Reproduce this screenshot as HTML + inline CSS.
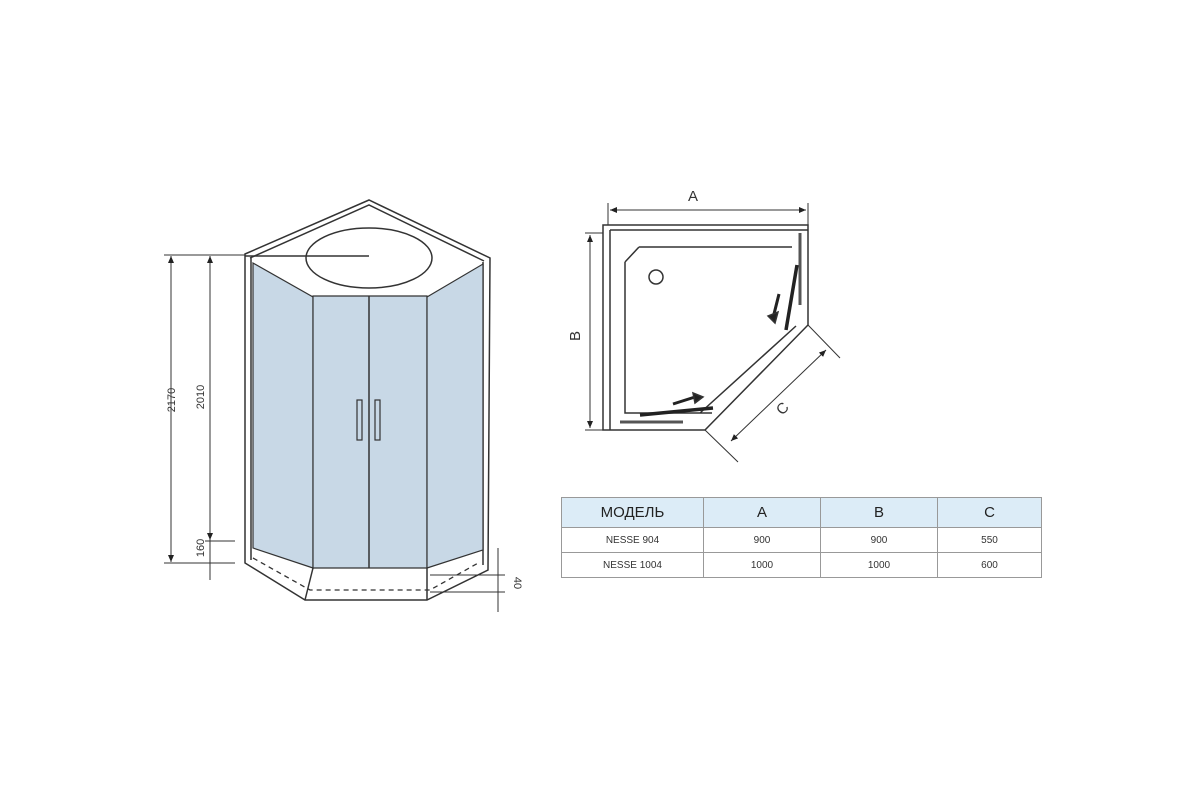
<!DOCTYPE html>
<html><head><meta charset="utf-8"><style>
body{margin:0;background:#fff;width:1200px;height:800px;overflow:hidden;font-family:"Liberation Sans",sans-serif;}
svg{position:absolute;left:0;top:0}
table{position:absolute;left:561px;top:497px;width:481px;border-collapse:collapse;font-family:"Liberation Sans","Noto Sans CJK SC",sans-serif;color:#333}
td{border:1px solid #999;text-align:center;font-size:10px;padding:0;height:24px}
tr.h td{background:#dcecf7;height:29px;font-size:15px;color:#222}
</style></head><body>
<svg width="1200" height="800" viewBox="0 0 1200 800">
<defs><marker id="a" markerWidth="8" markerHeight="8" refX="7" refY="4" orient="auto-start-reverse"><path d="M0,1 L7,4 L0,7" fill="#222"/></marker></defs>
<g fill="none" stroke="#333" stroke-width="1.5">
<!-- left cabin -->
<path d="M245,254 L369,200 L490,258 L488,570 L427,600 L305,600 L245,563 Z" fill="#fff"/>
<path d="M250,258 L369,205 L484,261"/>
<path d="M251,258 L251,560"/>
<path d="M483,262 L483,565"/>
<path d="M253,263 L313,297 L313,568 L253,548 Z" fill="#c8d8e6" stroke-width="1.2"/>
<path d="M313,296 L427,296 L427,568 L313,568 Z" fill="#c8d8e6" stroke-width="1.2"/>
<path d="M427,297 L483,264 L483,550 L427,568 Z" fill="#c8d8e6" stroke-width="1.2"/>
<line x1="369" y1="296" x2="369" y2="568"/>
<ellipse cx="369" cy="258" rx="63" ry="30" fill="#fff"/>
<line x1="245" y1="256" x2="369" y2="256"/>
<rect x="357" y="400" width="5" height="40" stroke-width="1.2"/>
<rect x="375" y="400" width="5" height="40" stroke-width="1.2"/>
<path d="M253,558 L310,590 L430,590 L480,562" stroke-dasharray="5,4" stroke-width="1.3"/>
<path d="M313,568 L305,600"/><path d="M427,568 L427,600"/>
<!-- dims -->
<line x1="171" y1="256" x2="171" y2="562" marker-start="url(#a)" marker-end="url(#a)" stroke-width="1"/>
<line x1="210" y1="256" x2="210" y2="540" marker-start="url(#a)" marker-end="url(#a)" stroke-width="1"/>
<line x1="210" y1="540" x2="210" y2="580" stroke-width="1"/>
<line x1="164" y1="255" x2="245" y2="255" stroke-width="1"/>
<line x1="164" y1="563" x2="235" y2="563" stroke-width="1"/>
<line x1="205" y1="541" x2="235" y2="541" stroke-width="1"/>
<line x1="498" y1="548" x2="498" y2="612" stroke-width="1"/>
<line x1="430" y1="575" x2="505" y2="575" stroke-width="1"/>
<line x1="430" y1="592" x2="505" y2="592" stroke-width="1"/>
<!-- plan -->
<path d="M603,225 L808,225 L808,325 L705,430 L603,430 Z" fill="#fff"/>
<path d="M610,230 L808,230 M610,230 L610,430"/>
<path d="M639,247 L792,247 M625,262 L639,247 M625,262 L625,413 L712,413 M700,413 L796,326"/>
<circle cx="656" cy="277" r="7"/>
<path d="M800,233 L800,305" stroke-width="3" stroke="#555"/>
<path d="M797,265 L786,330" stroke-width="3.5" stroke="#222"/>
<path d="M620,422 L683,422" stroke-width="3" stroke="#555"/>
<path d="M640,415 L713,408" stroke-width="3.5" stroke="#222"/>
<path d="M779,294 L773,318" stroke-width="3" stroke="#222"/>
<path d="M673,404 L695,397" stroke-width="3" stroke="#222"/>
<path d="M768,316 L775,323 L778,312 Z" fill="#222"/>
<path d="M693,393 L703,397 L695,403 Z" fill="#222"/>
<line x1="610" y1="210" x2="806" y2="210" marker-start="url(#a)" marker-end="url(#a)" stroke-width="1"/>
<line x1="608" y1="203" x2="608" y2="225" stroke-width="1"/><line x1="808" y1="203" x2="808" y2="225" stroke-width="1"/>
<line x1="590" y1="235" x2="590" y2="428" marker-start="url(#a)" marker-end="url(#a)" stroke-width="1"/>
<line x1="585" y1="233" x2="603" y2="233" stroke-width="1"/><line x1="585" y1="430" x2="603" y2="430" stroke-width="1"/>
<line x1="808" y1="325" x2="840" y2="358" stroke-width="1"/>
<line x1="705" y1="430" x2="738" y2="462" stroke-width="1"/>
<line x1="826" y1="350" x2="731" y2="441" marker-start="url(#a)" marker-end="url(#a)" stroke-width="1"/>
</g>
<g font-family="Liberation Sans" fill="#333" font-size="11">
<text transform="translate(175,400) rotate(-90)" text-anchor="middle">2170</text>
<text transform="translate(204,397) rotate(-90)" text-anchor="middle">2010</text>
<text transform="translate(204,548) rotate(-90)" text-anchor="middle">160</text>
<text transform="translate(514,583) rotate(90)" text-anchor="middle">40</text>
<text x="693" y="201" font-size="15" text-anchor="middle">A</text>
<text transform="translate(580,336) rotate(-90)" font-size="15" text-anchor="middle">B</text>
<text transform="translate(786,412) rotate(-45)" font-size="15" text-anchor="middle">C</text>
</g>
</svg>
<table>
<tr class="h"><td style="width:141px">МОДЕЛЬ</td><td style="width:116px">A</td><td style="width:116px">B</td><td>C</td></tr>
<tr><td>NESSE 904</td><td>900</td><td>900</td><td>550</td></tr>
<tr><td>NESSE 1004</td><td>1000</td><td>1000</td><td>600</td></tr>
</table>
</body></html>
